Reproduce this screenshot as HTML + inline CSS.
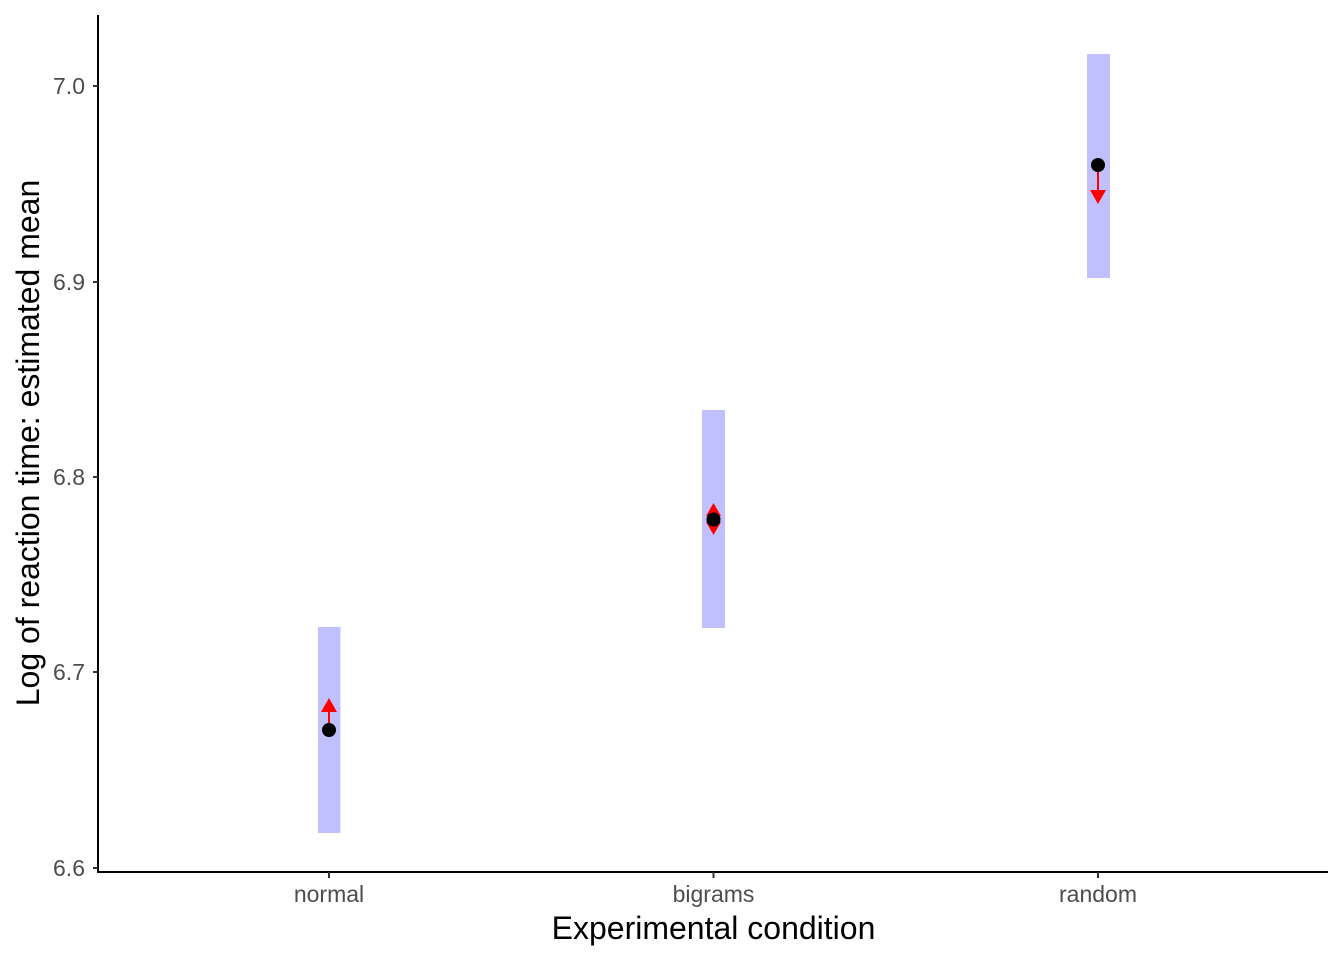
<!DOCTYPE html>
<html><head><meta charset="utf-8"><style>body{margin:0;background:#fff}svg{display:block}</style></head>
<body>
<svg width="1344" height="960" xmlns="http://www.w3.org/2000/svg" font-family="Liberation Sans, sans-serif">
<rect width="1344" height="960" fill="#fff"/>
<rect x="318" y="627" width="22.5" height="206" fill="#c0c0ff"/>
<rect x="702" y="410" width="23" height="218" fill="#c0c0ff"/>
<rect x="1087" y="54" width="23" height="224" fill="#c0c0ff"/>
<g stroke="red" stroke-width="2" fill="red">
<line x1="329" y1="730" x2="329" y2="705"/>
<polygon points="321,712 337,712 329,698" stroke="none"/>
<polygon points="706,516 721,516 713.5,503" stroke="none"/>
<polygon points="706,522 721,522 713.5,535" stroke="none"/>
<line x1="1098" y1="165" x2="1098" y2="195"/>
<polygon points="1090,190 1106,190 1098,204" stroke="none"/>
</g>
<circle cx="329" cy="730" r="7" fill="#000"/>
<circle cx="713.5" cy="519.5" r="7" fill="#000"/>
<circle cx="1098" cy="165" r="7" fill="#000"/>
<g stroke="#000" stroke-width="2" fill="none">
<line x1="98" y1="15" x2="98" y2="872"/>
<line x1="97" y1="872" x2="1328" y2="872"/>
</g>
<g stroke="#333" stroke-width="2">
<line x1="93" y1="86" x2="98" y2="86"/>
<line x1="93" y1="282" x2="98" y2="282"/>
<line x1="93" y1="477" x2="98" y2="477"/>
<line x1="93" y1="672" x2="98" y2="672"/>
<line x1="93" y1="868" x2="98" y2="868"/>
<line x1="329" y1="872" x2="329" y2="878"/>
<line x1="713.5" y1="872" x2="713.5" y2="878"/>
<line x1="1098" y1="872" x2="1098" y2="878"/>
</g>
<g fill="#4d4d4d" font-size="23" text-anchor="end">
<text x="85" y="94">7.0</text>
<text x="85" y="290">6.9</text>
<text x="85" y="485">6.8</text>
<text x="85" y="680">6.7</text>
<text x="85" y="876">6.6</text>
</g>
<g fill="#4d4d4d" font-size="23" text-anchor="middle">
<text x="329" y="902">normal</text>
<text x="713.5" y="902">bigrams</text>
<text x="1098" y="902">random</text>
</g>
<text x="713.5" y="939" font-size="32" text-anchor="middle" fill="#000">Experimental condition</text>
<text transform="translate(39,443) rotate(-90)" font-size="32" text-anchor="middle" fill="#000">Log of reaction time: estimated mean</text>
</svg>
</body></html>
